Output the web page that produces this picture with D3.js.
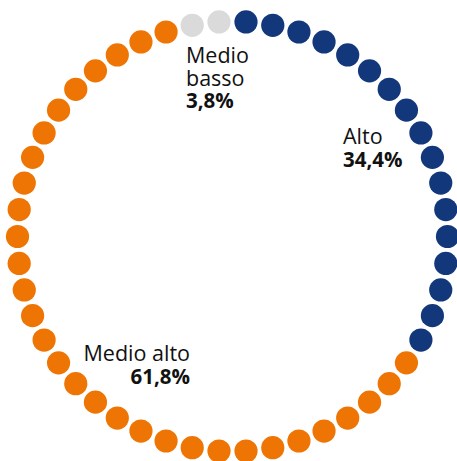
<!DOCTYPE html>
<html>
<head>
<meta charset="utf-8">
<script src="https://cdn.jsdelivr.net/npm/d3@7"></script>
<style>
  html, body { margin: 0; padding: 0; background: #fff; }
  svg { display: block; }
  text { font-family: "Open Sans", "Noto Sans", sans-serif; fill: #111; }
</style>
</head>
<body>
<svg id="chart" width="457" height="461"></svg>
<script>
// Shares by level, clockwise from the top
const categories = ["Alto", "Medio alto", "Medio basso"];
const values = [34.4, 61.8, 3.8];
const valueLabels = ["34,4%", "61,8%", "3,8%"];
const colors = ["#12377a", "#ee7503", "#dadada"];
const totalDots = 50;

const svg = d3.select("#chart");
const cx = 232.5, cy = 236.5, ringR = 215, dotR = 11.6;

// Turn shares into dot counts
const counts = values.map(v => Math.round(v / 100 * totalDots));
const dots = [];
categories.forEach((c, k) => {
  for (let j = 0; j < counts[k]; j++) dots.push({ cat: c, k });
});

const angle = d3.scaleLinear().domain([0, dots.length]).range([0, 2 * Math.PI]);
const color = d3.scaleOrdinal().domain(categories).range(colors);

svg.append("g")
  .selectAll("circle")
  .data(dots)
  .join("circle")
  .attr("cx", (d, i) => cx + ringR * Math.sin(angle(i + 0.5)))
  .attr("cy", (d, i) => cy - ringR * Math.cos(angle(i + 0.5)))
  .attr("r", dotR)
  .attr("fill", d => color(d.cat));

// Labels: name lines then the bold share
const labels = [
  { lines: ["Alto"], value: valueLabels[0], x: 343, y: 144, anchor: "start" },
  { lines: ["Medio alto"], value: valueLabels[1], x: 190, y: 361, anchor: "end" },
  { lines: ["Medio", "basso"], value: valueLabels[2], x: 186, y: 63, anchor: "start" }
];
const lineH = 22.5;

const lg = svg.append("g");
labels.forEach(l => {
  const rows = l.lines.map(s => ({ s, bold: false })).concat([{ s: l.value, bold: true }]);
  rows.forEach((r, i) => {
    lg.append("text")
      .attr("x", l.x)
      .attr("y", l.y + i * lineH)
      .attr("text-anchor", l.anchor)
      .style("font-size", r.bold ? "20.5px" : "21.5px")
      .style("font-weight", r.bold ? "700" : "400")
      .text(r.s);
  });
});
</script>
</body>
</html>
